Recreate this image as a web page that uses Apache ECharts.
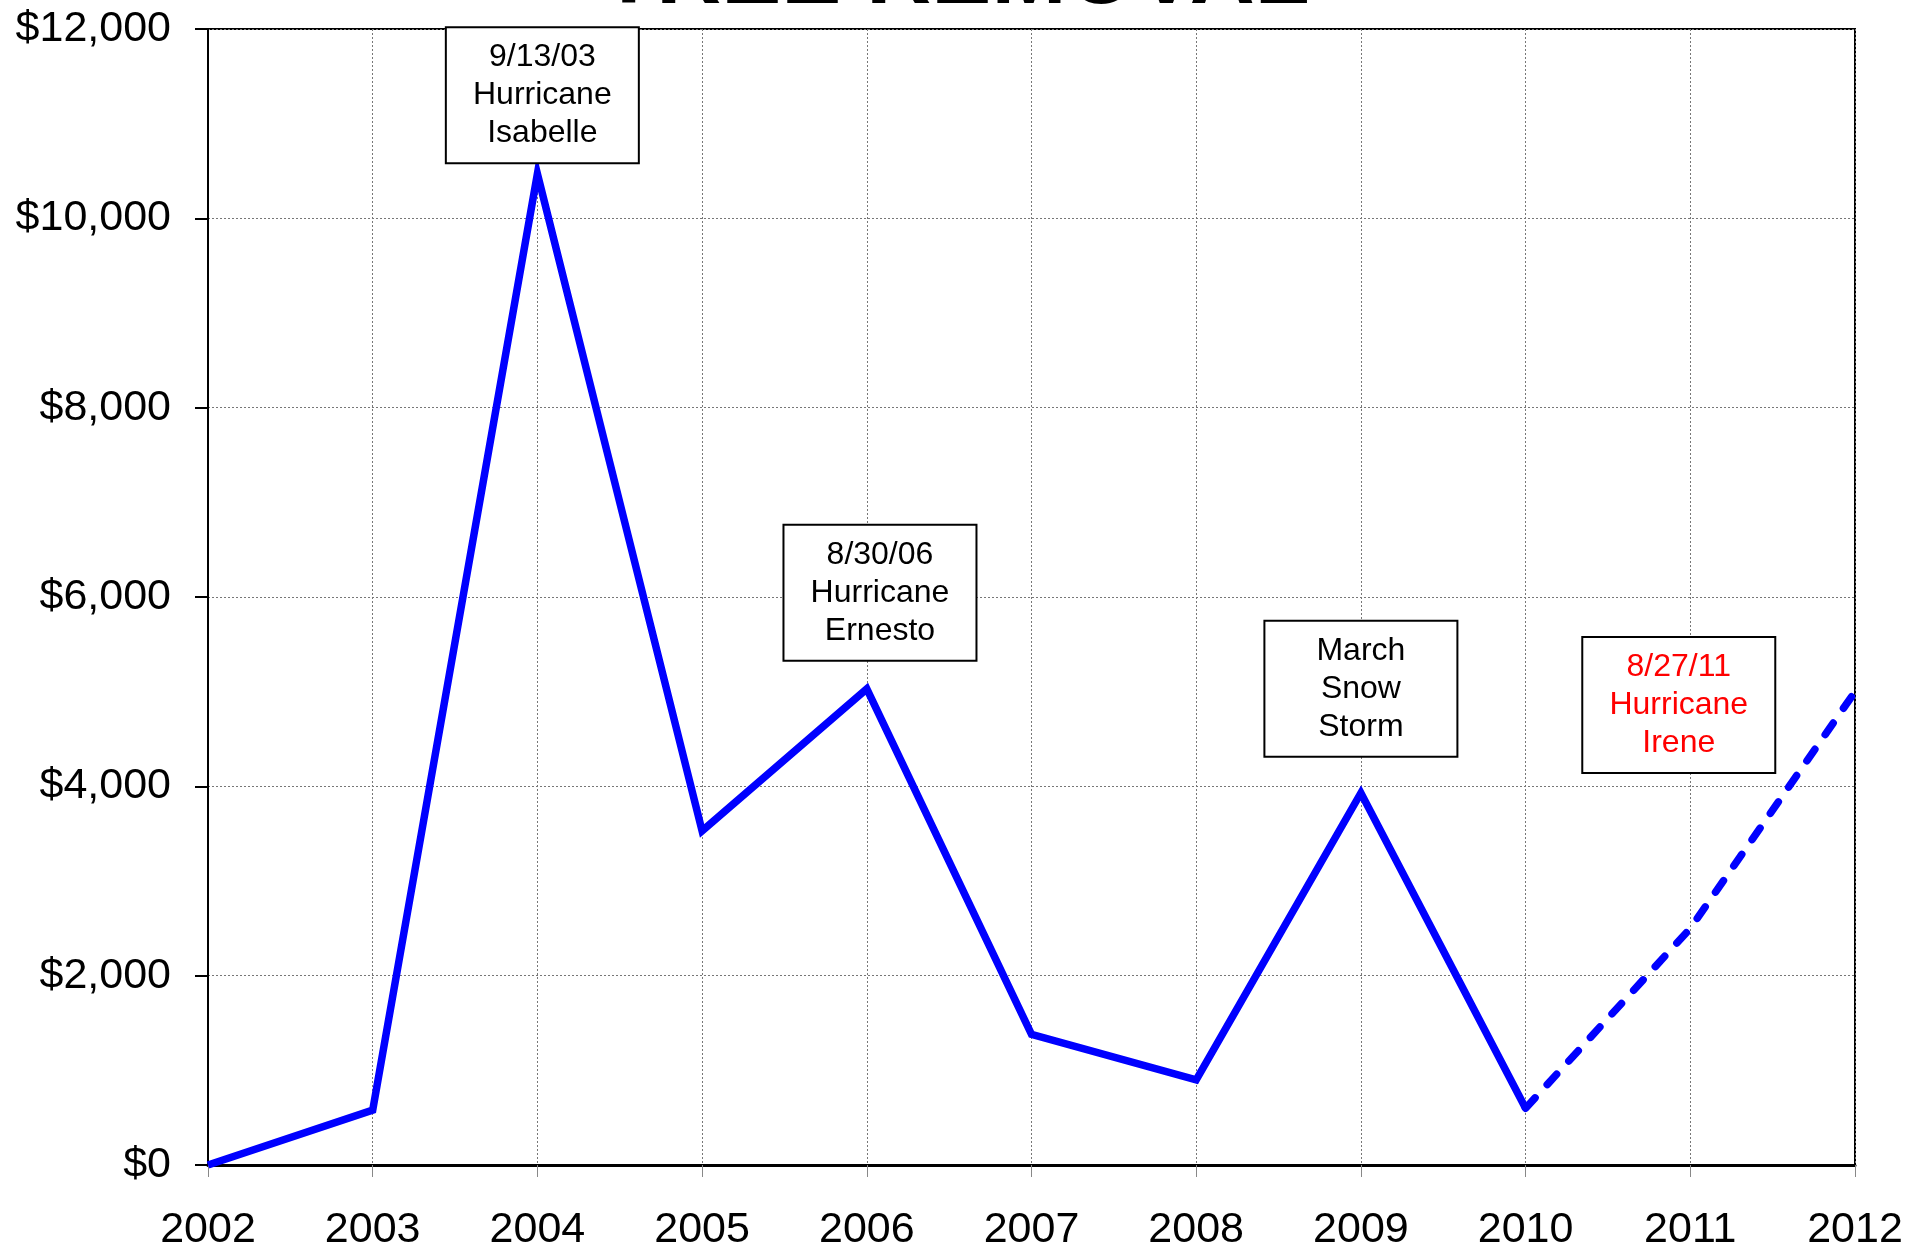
<!DOCTYPE html>
<html>
<head>
<meta charset="utf-8">
<script src="https://cdn.jsdelivr.net/npm/echarts@6/dist/echarts.min.js"></script>
<style>
  html, body { margin: 0; padding: 0; background: #fff; }
  #chart { width: 1911px; height: 1249px; }
</style>
</head>
<body>
<div id="chart"></div>
<script>
// data
const years = [2002, 2003, 2004, 2005, 2006, 2007, 2008, 2009, 2010];
const costs = [0, 580, 10470, 3530, 5030, 1380, 900, 3930, 600];
const projYears = [2010, 2011, 2012];
const projCosts = [600, 2500, 5000];
const yTicks = [0, 2000, 4000, 6000, 8000, 10000, 12000];

// notes: text, position (year, value), colour
const noteText = ['9/13/03\nHurricane\nIsabelle', '8/30/06\nHurricane\nErnesto', 'March\nSnow\nStorm', '8/27/11\nHurricane\nIrene'];
const noteX = [2004.03, 2006.08, 2009.0, 2010.93];
const noteY = [11300, 6045, 5030, 4860];
const noteColor = ['#000', '#000', '#000', '#ff0000'];

const FONT = '"Liberation Sans", Arial, sans-serif';

const chart = echarts.init(document.getElementById('chart'));

const notes = noteText.map((t, i) => ({
  coord: [noteX[i], noteY[i]],
  label: { formatter: t, color: noteColor[i] }
}));

const option = {
  animation: false,
  title: {
    text: 'TREE REMOVAL',
    left: 'center',
    top: -72,
    textStyle: { fontFamily: FONT, fontSize: 90, fontWeight: 'bold', color: '#000' }
  },
  grid: {
    left: 208, right: 56, top: 29, bottom: 84,
    outerBoundsMode: 'none',
    show: true, borderColor: '#000', borderWidth: 2
  },
  xAxis: {
    type: 'value',
    min: years[0],
    max: projYears[projYears.length - 1],
    interval: 1,
    axisLine: { show: true, lineStyle: { color: '#000', width: 3 } },
    axisTick: { show: true, length: 12, lineStyle: { color: '#888', width: 1 } },
    axisLabel: { margin: 44, fontFamily: FONT, fontSize: 43, color: '#000', formatter: v => String(v) },
    splitLine: { show: true, lineStyle: { color: '#777', width: 1, type: [2, 2] } }
  },
  yAxis: {
    type: 'value',
    min: yTicks[0],
    max: yTicks[yTicks.length - 1],
    interval: 2000,
    axisLine: { show: true, lineStyle: { color: '#000', width: 2 } },
    axisTick: { show: true, length: 13, lineStyle: { color: '#000', width: 2 } },
    axisLabel: {
      margin: 37, fontFamily: FONT, fontSize: 43, color: '#000',
      formatter: v => '$' + v.toLocaleString('en-US')
    },
    splitLine: { show: true, lineStyle: { color: '#777', width: 1, type: [2, 2] } }
  },
  series: [
    {
      type: 'line',
      data: years.map((y, i) => [y, costs[i]]),
      showSymbol: false,
      lineStyle: { color: '#0000ff', width: 7.5, join: 'miter' },
      z: 3,
      markPoint: {
        symbol: 'rect',
        symbolSize: 0,
        silent: true,
        label: {
          show: true,
          position: 'inside',
          fontFamily: FONT,
          fontSize: 32,
          lineHeight: 38,
          align: 'center',
          width: 175,
          padding: [17, 8, 3, 8],
          backgroundColor: '#fff',
          borderColor: '#000',
          borderWidth: 2
        },
        data: notes
      }
    },
    {
      type: 'line',
      data: projYears.map((y, i) => [y, projCosts[i]]),
      showSymbol: false,
      lineStyle: { color: '#0000ff', width: 7.5, type: [14, 18], cap: 'round' },
      z: 3
    }
  ]
};

chart.setOption(option);
</script>
</body>
</html>
